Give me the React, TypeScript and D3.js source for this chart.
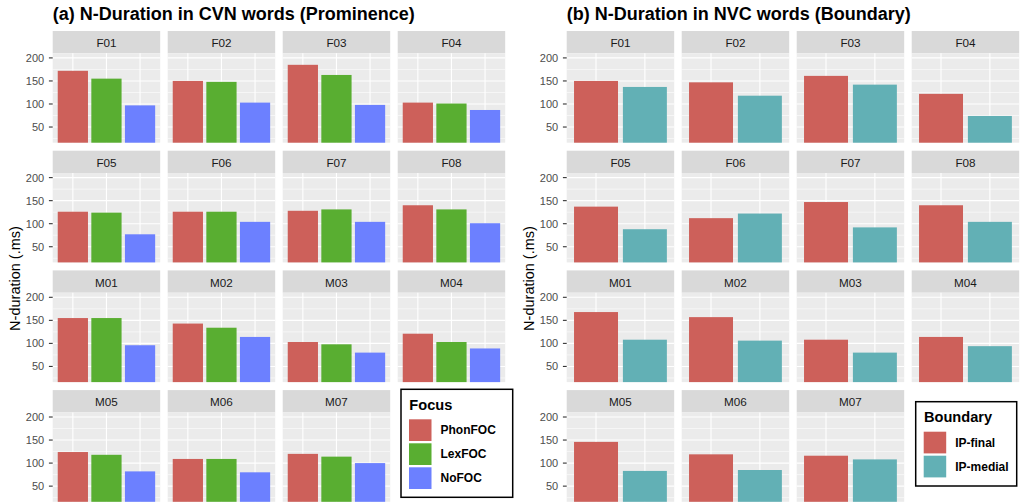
import * as d3 from "d3";

// facet labels, one per speaker
const speakers = ["F01", "F02", "F03", "F04", "F05", "F06", "F07", "F08", "M01", "M02", "M03", "M04", "M05", "M06", "M07"];

// (a) CVN words, by focus condition
const focusLevels = ["PhonFOC", "LexFOC", "NoFOC"];
const phonFOC = [172, 150, 185, 103, 126, 126, 128, 140, 155, 143, 103, 121, 124, 109, 120];
const lexFOC = [155, 148, 163, 101, 124, 126, 131, 131, 155, 134, 98, 103, 118, 109, 114];
const noFOC = [97, 103, 98, 87, 77, 104, 104, 101, 96, 114, 80, 89, 82, 80, 100];

// (b) NVC words, by boundary position
const boundaryLevels = ["IP-final", "IP-medial"];
const ipFinal = [150, 147, 161, 122, 137, 112, 147, 140, 168, 157, 108, 114, 146, 119, 116];
const ipMedial = [137, 118, 142, 74, 88, 122, 92, 104, 108, 106, 80, 94, 83, 85, 108];

const yTicks = [50, 100, 150, 200];
const yMinor = [25, 75, 125, 175];

const W = 1023;
const H = 502;
const FONT = "'Liberation Sans', Arial, Helvetica, sans-serif";

const panelW = 107.5;
const panelH = 89.4;
const stripH = 22.3;
const colStep = 115;
const rowStep = 119.7;
const top0 = 31;

type Legend = { x: number; y: number; w: number; h: number; title: string };

type FacetProps = {
  left: number;
  title: string;
  levels: string[];
  series: number[][];
  colors: string[];
  legend: Legend;
};

function FacetPlot({ left, title, levels, series, colors, legend }: FacetProps) {
  const y = d3.scaleLinear().domain([16, 210]).range([panelH, 0]);
  const x = d3.scaleBand<string>().domain(levels).range([0, panelW]).paddingInner(0.1).paddingOuter(0.15);

  return (
    <g>
      <text x={left} y={20} fontSize={18} fontWeight="bold" fill="#000">{title}</text>
      <text
        transform={`translate(${left - 33.2},278.5) rotate(-90)`}
        textAnchor="middle"
        fontSize={14.5}
        fill="#000"
      >
        N-duration (.ms)
      </text>

      {speakers.map((sp, i) => {
        const col = i % 4;
        const row = Math.floor(i / 4);
        const px = left + col * colStep;
        const sy = top0 + row * rowStep;
        const py = sy + stripH;
        return (
          <g key={sp}>
            <rect x={px} y={sy} width={panelW} height={stripH} fill="#d9d9d9" />
            <text x={px + panelW / 2} y={sy + 16.3} textAnchor="middle" fontSize={11.7} fill="#1a1a1a">{sp}</text>
            <g transform={`translate(${px},${py})`}>
              <rect width={panelW} height={panelH} fill="#ebebeb" />
              {yMinor.map(t => (
                <line key={"m" + t} x1={0} x2={panelW} y1={y(t)} y2={y(t)} stroke="#fff" strokeWidth={0.55} />
              ))}
              {yTicks.map(t => (
                <line key={"M" + t} x1={0} x2={panelW} y1={y(t)} y2={y(t)} stroke="#fff" strokeWidth={1.1} />
              ))}
              {levels.map(l => (
                <line key={"v" + l} x1={x(l)! + x.bandwidth() / 2} x2={x(l)! + x.bandwidth() / 2} y1={0} y2={panelH} stroke="#fff" strokeWidth={1.1} />
              ))}
              {levels.map((l, k) => (
                <rect
                  key={"b" + l}
                  x={x(l)}
                  y={y(series[k][i])}
                  width={x.bandwidth()}
                  height={panelH - y(series[k][i])}
                  fill={colors[k]}
                />
              ))}
              {col === 0 &&
                yTicks.map(t => (
                  <g key={"t" + t} transform={`translate(0,${y(t)})`}>
                    <line x1={-3.8} x2={0} stroke="#333" strokeWidth={1.1} />
                    <text x={-8.5} dy="0.36em" textAnchor="end" fontSize={11} fill="#4d4d4d">{t}</text>
                  </g>
                ))}
            </g>
          </g>
        );
      })}

      <g transform={`translate(${legend.x},${legend.y})`}>
        <rect width={legend.w} height={legend.h} fill="#fff" stroke="#000" strokeWidth={1.5} />
        <text x={8.3} y={20.8} fontSize={14.6} fontWeight="bold" fill="#000">{legend.title}</text>
        {levels.map((l, k) => (
          <g key={l} transform={`translate(8,${30 + k * 24})`}>
            <rect width={22.5} height={21.7} fill={colors[k]} />
            <text x={31.5} y={15.2} fontSize={12} fontWeight="bold" fill="#000">{l}</text>
          </g>
        ))}
      </g>
    </g>
  );
}

export default function App() {
  return (
    <svg
      width={W}
      height={H}
      style={{ position: "absolute", left: 0, top: 0, background: "#fff", fontFamily: FONT }}
    >
      <FacetPlot
        left={52.7}
        title="(a) N-Duration in CVN words (Prominence)"
        levels={focusLevels}
        series={[phonFOC, lexFOC, noFOC]}
        colors={["#cd605a", "#59ae31", "#6c80ff"]}
        legend={{ x: 401, y: 389.3, w: 111.7, h: 108, title: "Focus" }}
      />
      <FacetPlot
        left={566.7}
        title="(b) N-Duration in NVC words (Boundary)"
        levels={boundaryLevels}
        series={[ipFinal, ipMedial]}
        colors={["#cd605a", "#62b0b5"]}
        legend={{ x: 915.7, y: 401.7, w: 101, h: 84.3, title: "Boundary" }}
      />
    </svg>
  );
}
